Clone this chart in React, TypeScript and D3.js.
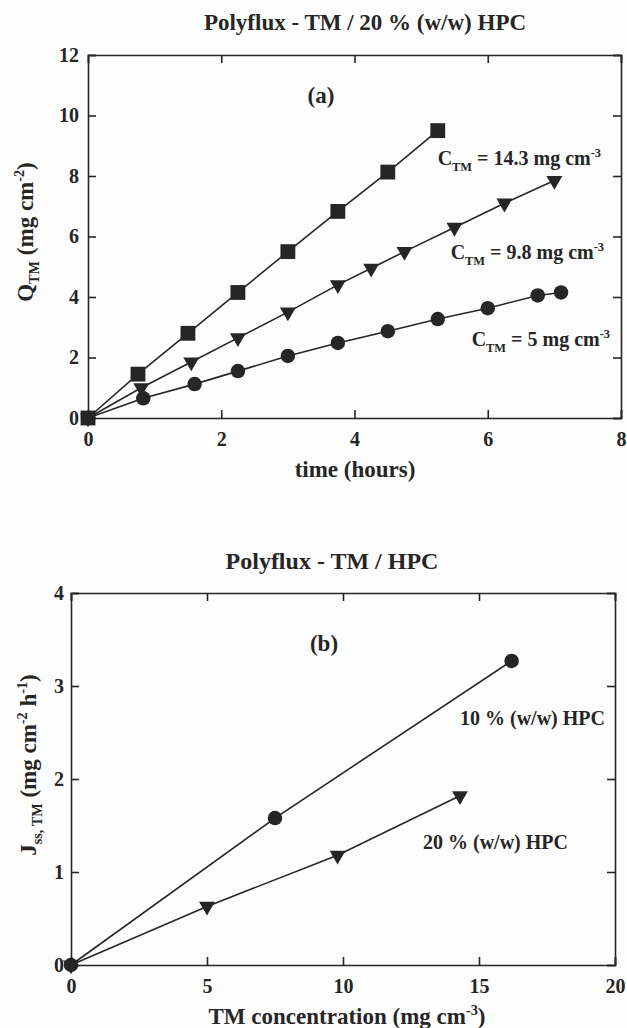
import React, { useEffect, useRef } from 'react';
import * as d3 from 'd3';

// ---- panel (a): cumulative amount Q_TM (mg cm-2) vs time (hours), 20 % HPC ----
const timeHigh = [0, 0.75, 1.5, 2.25, 3, 3.75, 4.5, 5.25];
const qHigh = [0, 1.45, 2.8, 4.15, 5.5, 6.83, 8.13, 9.5];

const timeMid = [0, 0.8, 1.55, 2.25, 3, 3.75, 4.25, 4.75, 5.5, 6.25, 7];
const qMid = [0, 1.0, 1.85, 2.65, 3.5, 4.4, 4.95, 5.5, 6.3, 7.1, 7.85];

const timeLow = [0, 0.83, 1.6, 2.25, 3, 3.75, 4.5, 5.25, 6, 6.75, 7.1];
const qLow = [0, 0.65, 1.12, 1.55, 2.05, 2.48, 2.87, 3.27, 3.63, 4.05, 4.15];

const timeTicks = [0, 2, 4, 6, 8];
const qTicks = [0, 2, 4, 6, 8, 10, 12];

// ---- panel (b): steady state flux vs TM concentration ----
const conc10 = [0, 7.5, 16.2];
const flux10 = [0, 1.58, 3.27];

const conc20 = [0, 5, 9.8, 14.3];
const flux20 = [0, 0.63, 1.18, 1.82];

const concTicks = [0, 5, 10, 15, 20];
const fluxTicks = [0, 1, 2, 3, 4];

const ink = '#262626';
const serif = '"Liberation Serif", "Times New Roman", serif';

type Part = [string, string?];

// text with sub / superscript pieces
function richText(g: any, x: number, y: number, parts: Part[], opts: any = {}) {
    const size = opts.size || 20;
    const t = g.append('text')
        .attr('x', x)
        .attr('y', y)
        .attr('text-anchor', opts.anchor || 'start')
        .attr('font-family', serif)
        .attr('font-weight', 'bold')
        .attr('font-size', size)
        .attr('fill', ink);
    if (opts.rotate) t.attr('transform', `rotate(-90,${x},${y})`);
    let shift = 0;
    parts.forEach(([txt, kind]) => {
        let target = 0;
        if (kind === 'sub') target = size * 0.28;
        if (kind === 'sup') target = -size * 0.4;
        t.append('tspan')
            .attr('dy', target - shift)
            .attr('font-size', kind ? size * 0.62 : size)
            .text(txt);
        shift = target;
    });
    return t;
}

function drawFrame(g: any, x: any, y: any, xTicks: number[], yTicks: number[], xPad: number, yPad: number) {
    const [x0, x1] = x.range();
    const [y0, y1] = y.range();

    g.append('g')
        .attr('transform', `translate(0,${y0})`)
        .call(d3.axisBottom(x).tickValues(xTicks).tickSize(-8).tickPadding(xPad).tickFormat(d3.format('d')));
    g.append('g')
        .attr('transform', `translate(${x0},0)`)
        .call(d3.axisLeft(y).tickValues(yTicks).tickSize(-8).tickPadding(yPad).tickFormat(d3.format('d')));
    g.append('g')
        .attr('transform', `translate(0,${y1})`)
        .call(d3.axisTop(x).tickValues(xTicks).tickSize(-8).tickFormat(() => ''));
    g.append('g')
        .attr('transform', `translate(${x1},0)`)
        .call(d3.axisRight(y).tickValues(yTicks).tickSize(-8).tickFormat(() => ''));

    g.selectAll('.domain, .tick line')
        .attr('stroke', ink)
        .attr('stroke-width', 1.6);
    g.selectAll('.tick text')
        .attr('fill', ink)
        .attr('font-family', serif)
        .attr('font-weight', 'bold')
        .attr('font-size', 20);
}

function drawSeries(g: any, x: any, y: any, xs: number[], ys: number[], shape: string) {
    const pts = xs.map((v, i) => [x(v), y(ys[i])]);
    g.append('path')
        .attr('d', d3.line()(pts as any))
        .attr('fill', 'none')
        .attr('stroke', ink)
        .attr('stroke-width', 1.6);

    let sym: any;
    let rot = 0;
    if (shape === 'square') sym = d3.symbol(d3.symbolSquare, 220);
    else if (shape === 'circle') sym = d3.symbol(d3.symbolCircle, 165);
    else { sym = d3.symbol(d3.symbolTriangle, 110); rot = 180; }

    g.selectAll(null)
        .data(pts)
        .enter()
        .append('path')
        .attr('d', sym())
        .attr('transform', (d: number[]) => `translate(${d[0]},${d[1]}) rotate(${rot})`)
        .attr('fill', ink);
}

function App() {
    const ref = useRef<SVGSVGElement>(null);

    useEffect(() => {
        const svg = d3.select(ref.current);
        svg.selectAll('*').remove();

        //////////
        // PANEL A //
        //////////
        const ga = svg.append('g');
        const xa = d3.scaleLinear().domain([0, 8]).range([88, 621]);
        const ya = d3.scaleLinear().domain([0, 12]).range([418, 55]);

        drawSeries(ga, xa, ya, timeHigh, qHigh, 'square');
        drawSeries(ga, xa, ya, timeMid, qMid, 'triangle');
        drawSeries(ga, xa, ya, timeLow, qLow, 'circle');
        drawFrame(ga, xa, ya, timeTicks, qTicks, 14, 9);

        richText(ga, 365, 30, [['Polyflux - TM / 20 % (w/w) HPC']], { anchor: 'middle', size: 23 });
        richText(ga, 321, 103, [['(a)']], { anchor: 'middle', size: 23 });
        richText(ga, 355, 477, [['time (hours)']], { anchor: 'middle', size: 23 });
        richText(ga, 33, 232, [['Q'], ['TM', 'sub'], [' (mg cm'], ['-2', 'sup'], [')']], { anchor: 'middle', size: 23, rotate: true });

        richText(ga, 601, 165, [['C'], ['TM', 'sub'], [' = 14.3 mg cm'], ['-3', 'sup']], { anchor: 'end', size: 20 });
        richText(ga, 604, 259, [['C'], ['TM', 'sub'], [' = 9.8 mg cm'], ['-3', 'sup']], { anchor: 'end', size: 20 });
        richText(ga, 610, 346, [['C'], ['TM', 'sub'], [' = 5 mg cm'], ['-3', 'sup']], { anchor: 'end', size: 20 });

        //////////
        // PANEL B //
        //////////
        const gb = svg.append('g');
        const xb = d3.scaleLinear().domain([0, 20]).range([71, 615]);
        const yb = d3.scaleLinear().domain([0, 4]).range([965, 593]);

        drawSeries(gb, xb, yb, conc20, flux20, 'triangle');
        drawSeries(gb, xb, yb, conc10, flux10, 'circle');
        drawFrame(gb, xb, yb, concTicks, fluxTicks, 14, 7);

        richText(gb, 332, 569, [['Polyflux - TM / HPC']], { anchor: 'middle', size: 24 });
        richText(gb, 324, 651, [['(b)']], { anchor: 'middle', size: 23 });
        richText(gb, 347, 1024, [['TM concentration (mg cm'], ['-3', 'sup'], [')']], { anchor: 'middle', size: 23 });
        richText(gb, 36, 765, [['J'], ['ss, TM', 'sub'], [' (mg cm'], ['-2', 'sup'], [' h'], ['-1', 'sup'], [')']], { anchor: 'middle', size: 23, rotate: true });

        richText(gb, 605, 725, [['10 % (w/w) HPC']], { anchor: 'end', size: 20 });
        richText(gb, 568, 849, [['20 % (w/w) HPC']], { anchor: 'end', size: 20 });
    }, []);

    return (
        <svg
            ref={ref}
            width={627}
            height={1028}
            style={{ position: 'absolute', left: 0, top: 0, background: '#fdfdfd' }}
        />
    );
}

export default App;
